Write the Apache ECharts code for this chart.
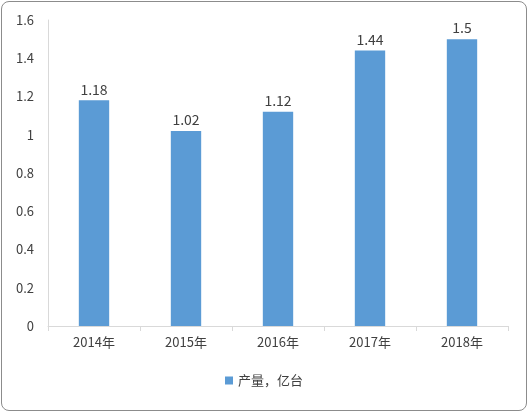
<!DOCTYPE html>
<html><head><meta charset="utf-8">
<script src="https://cdn.jsdelivr.net/npm/echarts@6/dist/echarts.min.js"></script>
<style>html,body{margin:0;padding:0;background:#fff}
#c{position:absolute;left:1px;top:1px;width:526px;height:410px;border:1px solid #8c8c8c;border-radius:8px;box-sizing:border-box}</style>
</head><body><div id="c"></div>
<script>
const categories=['2014年','2015年','2016年','2017年','2018年'];
const values=[1.18,1.02,1.12,1.44,1.5];
const seriesName='产量，亿台';
const chart=echarts.init(document.getElementById('c'));
chart.setOption({
 animation:false,
 textStyle:{fontFamily:'Noto Sans CJK SC'},
 grid:{left:46,right:18,top:18,bottom:84},
 legend:{bottom:18,left:'center',itemWidth:8,itemHeight:8,icon:'rect',textStyle:{fontSize:13,color:'#404040'},data:[seriesName]},
 xAxis:{type:'category',data:categories,axisLine:{lineStyle:{color:'#d9d9d9'}},axisTick:{show:true,lineStyle:{color:'#d9d9d9'}},axisLabel:{color:'#404040',fontSize:13,margin:10}},
 yAxis:{type:'value',min:0,max:1.6,interval:0.2,axisLine:{show:true,lineStyle:{color:'#d9d9d9'}},splitLine:{show:false},axisLabel:{color:'#404040',fontSize:13,margin:14,formatter:v=>String(+v.toFixed(1))}},
 series:[{name:seriesName,type:'bar',data:values,barWidth:'33%',itemStyle:{color:'#5b9bd5'},label:{show:true,position:'top',color:'#404040',fontSize:14,distance:4}}]
});
</script></body></html>
